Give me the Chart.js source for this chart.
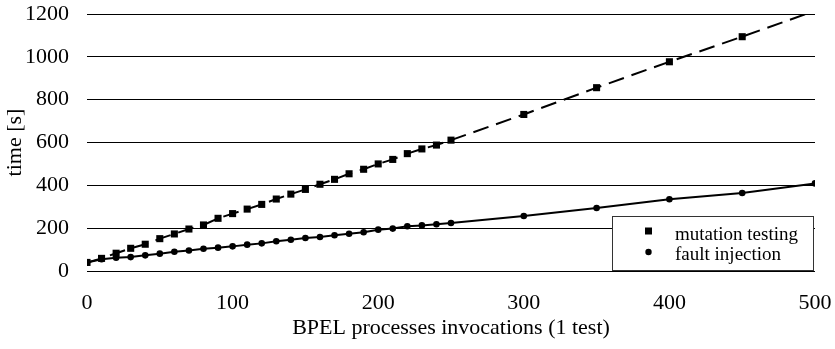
<!DOCTYPE html>
<html>
<head>
<meta charset="utf-8">
<script src="https://cdn.jsdelivr.net/npm/chart.js@4"></script>
<style>
  html, body { margin: 0; padding: 0; background: #fff; }
  #wrap { width: 835px; height: 349px; }
</style>
</head>
<body>
<div id="wrap"><canvas id="timeChart"></canvas></div>
<script>
var invocations = [0, 10, 20, 30, 40, 50, 60, 70, 80, 90, 100, 110, 120, 130, 140, 150,
  160, 170, 180, 190, 200, 210, 220, 230, 240, 250, 300, 350, 400, 450, 500];
var mutationTesting = [40, 59, 83, 106, 125, 151, 173, 196, 215, 246, 268, 289, 311, 336, 359, 381,
  405, 428, 454, 475, 500, 521, 548, 570, 588, 611, 731, 856, 977, 1094, 1215];
var faultInjection = [40, 55, 62, 65, 73, 81, 90, 96, 104, 109, 115, 123, 129, 139, 146, 154,
  159, 167, 174, 181, 193, 198, 209, 213, 218, 224, 257, 294, 335, 364, 409];
var seriesLabels = ["mutation testing", "fault injection"];

var FONT = "'Liberation Serif', 'Times New Roman', serif";

function toPoints(values) {
  return invocations.map(function(x, i) {
    return { x: x, y: values[i] };
  });
}

// legend box drawn inside the plot, bottom right
var boxLegend = {
  id: "boxLegend",
  afterDraw: function(chart) {
    var ctx = chart.ctx;
    var area = chart.chartArea;
    var w = 201, h = 54;
    var left = Math.round(area.right) - 203;
    var top = Math.round(chart.scales.y.getPixelForValue(0)) - h - 1;
    ctx.save();
    ctx.fillStyle = "#fff";
    ctx.fillRect(left, top, w, h);
    ctx.strokeStyle = "#333";
    ctx.lineWidth = 1;
    ctx.strokeRect(left + 0.5, top + 0.5, w, h);
    ctx.fillStyle = "#000";
    ctx.font = "19px " + FONT;
    ctx.textBaseline = "alphabetic";
    chart.data.datasets.forEach(function(ds, i) {
      var cy = top + 15 + i * 21;
      if (ds.pointStyle === "rect") {
        ctx.fillRect(left + 33, cy - 3.5, 7, 7);
      } else {
        ctx.beginPath();
        ctx.arc(left + 36.5, cy, 3.2, 0, Math.PI * 2);
        ctx.fill();
      }
      ctx.fillText(ds.label, left + 63, top + 24 + i * 20);
    });
    ctx.restore();
  }
};

new Chart(document.getElementById("timeChart").getContext("2d"), {
  type: "line",
  data: {
    datasets: [{
      label: seriesLabels[0],
      data: toPoints(mutationTesting),
      borderColor: "#000",
      backgroundColor: "#000",
      borderWidth: 2,
      borderDash: [16, 8],
      pointStyle: "rect",
      pointRadius: 5,
      pointBorderWidth: 0,
      fill: false
    }, {
      label: seriesLabels[1],
      data: toPoints(faultInjection),
      borderColor: "#000",
      backgroundColor: "#000",
      borderWidth: 2,
      pointStyle: "circle",
      pointRadius: 3.3,
      pointBorderWidth: 0,
      fill: false
    }]
  },
  options: {
    responsive: true,
    maintainAspectRatio: false,
    animation: false,
    layout: { padding: { top: 14, right: 20, left: 0, bottom: 0 } },
    plugins: {
      legend: { display: false },
      tooltip: { enabled: false }
    },
    scales: {
      x: {
        type: "linear",
        min: 0,
        max: 500,
        ticks: { stepSize: 100, color: "#000", font: { family: FONT, size: 22 }, padding: 11,
          callback: function(v) { return String(v); } },
        grid: { display: false },
        border: { display: false },
        title: { display: true, text: "BPEL processes invocations (1 test)", color: "#000",
          font: { family: FONT, size: 22 }, padding: { top: 0, bottom: 8 } },
        afterFit: function(scale) {
          scale.height = 78;
          scale.paddingLeft = 0;
          scale.paddingRight = 0;
        }
      },
      y: {
        min: 0,
        max: 1200,
        ticks: { stepSize: 200, color: "#000", font: { family: FONT, size: 22 }, padding: 18,
          callback: function(v) { return String(v); } },
        grid: { color: "#000", lineWidth: 1, drawTicks: false },
        border: { display: false },
        title: { display: true, text: "time [s]", color: "#000",
          font: { family: FONT, size: 22 }, padding: { top: 2, bottom: 0 } },
        afterFit: function(scale) {
          scale.width = 87;
          scale.paddingTop = 0;
          scale.paddingBottom = 0;
        }
      }
    }
  },
  plugins: [boxLegend]
});
</script>
</body>
</html>
